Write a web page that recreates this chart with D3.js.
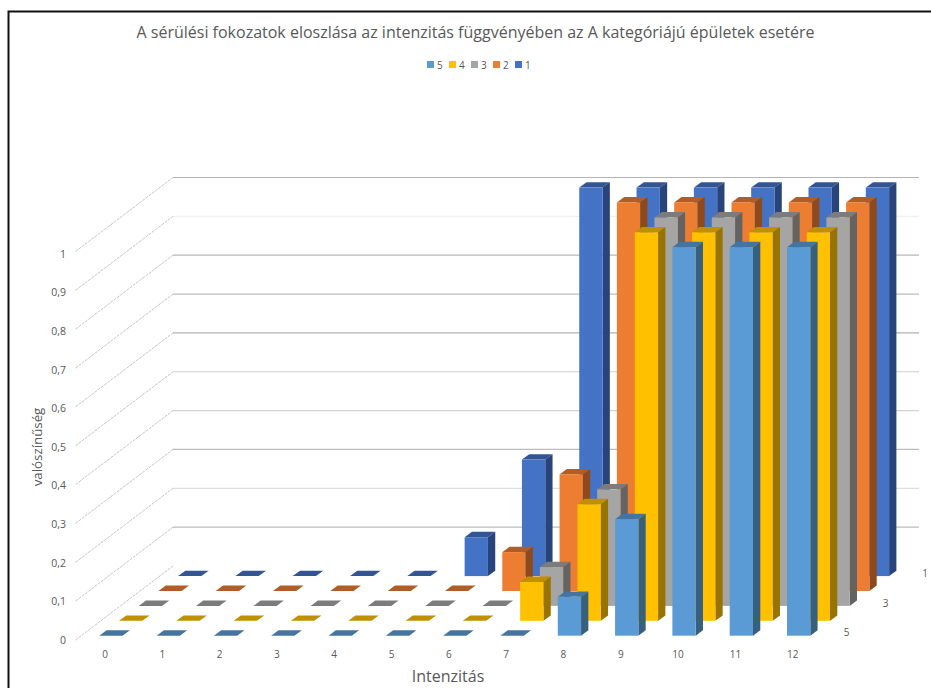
<!DOCTYPE html>
<html>
<head>
<meta charset="utf-8">
<script src="https://cdn.jsdelivr.net/npm/d3@7/dist/d3.min.js"></script>
<style>
html,body{margin:0;padding:0;background:#fff;overflow:hidden}
svg{display:block}
text{font-family:"Open Sans",Lato,sans-serif;fill:#595959}
</style>
</head>
<body>
<svg id="chart" width="931" height="688"></svg>
<script>
const categories = ["0","1","2","3","4","5","6","7","8","9","10","11","12"];
const seriesNames = ["1","2","3","4","5"];           // back row first
const legendOrder = ["5","4","3","2","1"];
const depthLabels = ["1","3","5"];
const probabilityTicks = [0,0.1,0.2,0.3,0.4,0.5,0.6,0.7,0.8,0.9,1];
const gridTicks = [0.1,0.2,0.3,0.4,0.5,0.6,0.7,0.8,0.9,1];
const gridShades = ["#bdbdbd","#dedede","#bdbdbd","#d2d2d2","#cdcdcd","#b2b2b2","#bcbcbc","#b8b8b8","#efefef","#b4b4b4"];

const values1 = [0,0,0,0,0,0.1,0.3,1,1,1,1,1,1];
const values2 = [0,0,0,0,0,0,0.1,0.3,1,1,1,1,1];
const values3 = [0,0,0,0,0,0,0,0.1,0.3,1,1,1,1];
const values4 = [0,0,0,0,0,0,0,0.1,0.3,1,1,1,1];
const values5 = [0,0,0,0,0,0,0,0,0.1,0.3,1,1,1];
const seriesValues = [values1,values2,values3,values4,values5];

const fronts = {"1":"#4472c4","2":"#ed7d31","3":"#a5a5a5","4":"#ffc000","5":"#5b9bd5"};
const tops   = {"1":"#335593","2":"#b15d25","3":"#7c7c7c","4":"#bf9000","5":"#44749f"};
const sides  = {"1":"#28447a","2":"#8e4a1d","3":"#636363","4":"#997300","5":"#37607f"};

const svg = d3.select("#chart");

// Oblique projection: x runs along the categories, z runs from the front row to the back row.
const xScale = d3.scalePoint().domain(categories).range([99.3, 787]);
const rowScale = d3.scalePoint().domain(["5","4","3","2","1"]).range([0,4]);
const yScale = d3.scaleLinear().domain([0,1]).range([0,-388.5]);
const labelY = d3.scaleLinear().domain([0,1]).range([640,254]);
const rowDx = 19.7, rowDy = -14.9, barW = 23.3, capDx = 7.3, capDy = -5.4;
const floorY = 635.7;

// chart frame: only the top and left edges fall inside the page
svg.append("path").attr("d","M8.5,688V11.5H931")
  .attr("fill","none").attr("stroke","#111").attr("stroke-width",2);

// walls: side-wall diagonals and back-wall gridlines
const wallLeft = 173, wallRight = 919, wallBase = 566, frontX = 75.5, frontBase = 640;
svg.append("g").selectAll("line").data(probabilityTicks).join("line")
  .attr("x1",frontX).attr("x2",wallLeft)
  .attr("y1",d=>frontBase+yScale(d)).attr("y2",d=>wallBase+yScale(d))
  .attr("stroke","#bdbdbd").attr("stroke-width",0.9).attr("stroke-dasharray","3 1");
svg.append("g").selectAll("line").data(gridTicks).join("line")
  .attr("x1",wallLeft).attr("x2",wallRight)
  .attr("y1",d=>wallBase+yScale(d)).attr("y2",d=>wallBase+yScale(d))
  .attr("stroke",(d,i)=>gridShades[i]).attr("stroke-width",1.2);

// bars, painted from the back row forward
const poly = pts => pts.map(p=>p.join(",")).join(" ");
seriesNames.forEach((name,si)=>{
  const row = rowScale(name);
  const g = svg.append("g").attr("class","row-"+name);
  categories.forEach((c,ci)=>{
    const v = seriesValues[si][ci];
    const x0 = xScale(c)+row*rowDx;
    const yb = floorY+row*rowDy;
    const yt = yb+yScale(v);
    g.append("polygon").attr("fill",tops[name])
      .attr("points",poly([[x0,yt],[x0+barW,yt],[x0+barW+capDx,yt+capDy],[x0+capDx,yt+capDy]]));
    if(v>0){
      g.append("polygon").attr("fill",sides[name])
        .attr("points",poly([[x0+barW,yt],[x0+barW+capDx,yt+capDy],[x0+barW+capDx,yb+capDy],[x0+barW,yb]]));
      g.append("rect").attr("x",x0).attr("y",yt).attr("width",barW).attr("height",yb-yt).attr("fill",fronts[name]);
    }
  });
});

// category labels
svg.append("g").selectAll("text").data(categories).join("text")
  .attr("x",d=>xScale(d)+5.7).attr("y",658).attr("text-anchor","middle")
  .attr("font-size",10).text(d=>d);

// probability labels
const fmt = d=>String(d).replace(".",",");
svg.append("g").selectAll("text").data(probabilityTicks).join("text")
  .attr("x",66).attr("y",d=>labelY(d)+3.7).attr("text-anchor","end")
  .attr("font-size",10.5).text(fmt);

// depth axis labels
const depthAnchor = {"5":[846.7,636],"3":[885.7,606.5],"1":[925,577]};
svg.append("g").selectAll("text").data(depthLabels).join("text")
  .attr("x",d=>depthAnchor[d][0]).attr("y",d=>depthAnchor[d][1]).attr("text-anchor","middle")
  .attr("font-size",10).text(d=>d);

// titles
svg.append("text").attr("x",475.5).attr("y",38).attr("text-anchor","middle")
  .attr("font-size",16).text("A sérülési fokozatok eloszlása az intenzitás függvényében az A kategóriájú épületek esetére");
svg.append("text").attr("x",448).attr("y",682).attr("text-anchor","middle")
  .attr("font-size",16).text("Intenzitás");
svg.append("text").attr("transform","translate(42,447) rotate(-90)").attr("text-anchor","middle")
  .attr("font-size",13.3).text("valószínűség");

// legend
const legendX = d3.scalePoint().domain(legendOrder).range([427,515]);
const lg = svg.append("g").selectAll("g").data(legendOrder).join("g")
  .attr("transform",d=>`translate(${legendX(d)},61)`);
lg.append("rect").attr("width",7).attr("height",7).attr("fill",d=>fronts[d]);
lg.append("text").attr("x",10).attr("y",7.5).attr("font-size",10).text(d=>d);
</script>
</body>
</html>
